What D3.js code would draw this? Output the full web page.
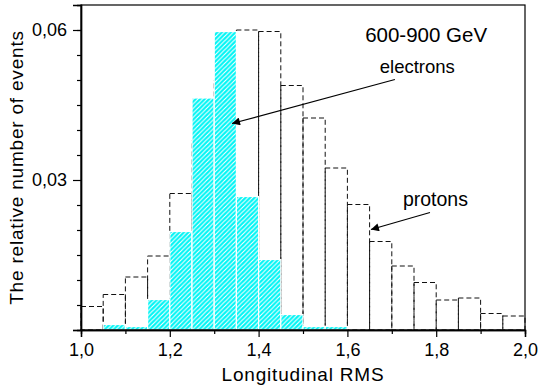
<!DOCTYPE html>
<html>
<head>
<meta charset="utf-8">
<script src="https://cdn.jsdelivr.net/npm/d3@7"></script>
<style>
  body { margin: 0; background: #fff; }
  svg { display: block; font-family: "Liberation Sans", Arial, sans-serif; }
</style>
</head>
<body>
<div id="chart"></div>
<script>
// bin left edges (bin width 0.05)
const binStarts = [1.00, 1.05, 1.10, 1.15, 1.20, 1.25, 1.30, 1.35, 1.40, 1.45,
                   1.50, 1.55, 1.60, 1.65, 1.70, 1.75, 1.80, 1.85, 1.90, 1.95];
const binWidth = 0.05;

const electrons = [0, 0.0011, 0.0007, 0.0061, 0.0197, 0.0464, 0.0597, 0.0267, 0.0141, 0.0031,
                   0.0007, 0.0007, 0, 0, 0, 0, 0, 0, 0, 0];
const protons = [0.0047, 0.0071, 0.0106, 0.0148, 0.0273, 0.0380, 0.0500, 0.0600, 0.0597, 0.0489,
                 0.0424, 0.0324, 0.0251, 0.0177, 0.0128, 0.0095, 0.0060, 0.0064, 0.0033, 0.0028];

const xMajorTicks = [1.0, 1.2, 1.4, 1.6, 1.8, 2.0];
const xMinorTicks = [1.1, 1.3, 1.5, 1.7, 1.9];
const yMajorTicks = [0, 0.03, 0.06];
const yMinorTicks = [0.005, 0.01, 0.015, 0.02, 0.025, 0.035, 0.04, 0.045, 0.05, 0.055, 0.06];

const W = 541, H = 389;
const margin = { top: 5, right: 16, bottom: 59, left: 81 };

const svg = d3.select("#chart").append("svg")
  .attr("width", W)
  .attr("height", H);

const x = d3.scaleLinear([1, 2], [margin.left, W - margin.right]);
const y = d3.scaleLinear([0, 0.065], [H - margin.bottom, margin.top]);

const comma = f => d => d3.format(f)(d).replace(".", ",");

// hatch for electrons
const defs = svg.append("defs");
const pat = defs.append("pattern")
  .attr("id", "hatch")
  .attr("patternUnits", "userSpaceOnUse")
  .attr("width", 4.5).attr("height", 4.5);
pat.append("rect").attr("width", 4.5).attr("height", 4.5).attr("fill", "#00f5f5");
pat.append("path")
  .attr("d", "M0,4.5 L4.5,0 M-1,1 L1,-1 M3.5,5.5 L5.5,3.5")
  .attr("stroke", "#fff")
  .attr("stroke-width", 1.1);

// protons: dashed outlines
svg.append("g")
  .selectAll("rect")
  .data(binStarts)
  .join("rect")
    .attr("x", d => x(d))
    .attr("y", (d, i) => y(protons[i]))
    .attr("width", d => x(d + binWidth) - x(d))
    .attr("height", (d, i) => y(0) - y(protons[i]))
    .attr("fill", "none")
    .attr("stroke", "#111")
    .attr("stroke-width", 1)
    .attr("stroke-dasharray", "5,3");

// electrons: cyan hatched bars
svg.append("g")
  .selectAll("rect")
  .data(binStarts.filter((d, i) => electrons[i] > 0))
  .join("rect")
    .attr("x", d => x(d))
    .attr("y", d => y(electrons[binStarts.indexOf(d)]))
    .attr("width", d => x(d + binWidth) - x(d))
    .attr("height", d => y(0) - y(electrons[binStarts.indexOf(d)]))
    .attr("fill", "url(#hatch)")
    .attr("stroke", "#fff")
    .attr("stroke-width", 1.2);

// frame
svg.append("rect")
  .attr("x", x(1)).attr("y", y(0.065))
  .attr("width", x(2) - x(1)).attr("height", y(0) - y(0.065))
  .attr("fill", "none").attr("stroke", "#000").attr("stroke-width", 1.2);

// axes
const styleAxis = g => {
  g.select(".domain").attr("stroke", "#000").attr("stroke-width", 1.4);
  g.selectAll(".tick line").attr("stroke", "#000").attr("stroke-width", 1.2);
  g.selectAll(".tick text").attr("fill", "#000").style("font-size", "18px");
};

svg.append("g")
  .attr("transform", `translate(0,${y(0)})`)
  .call(d3.axisBottom(x).tickValues(xMinorTicks).tickSize(4).tickFormat(""))
  .call(styleAxis);
svg.append("g")
  .attr("transform", `translate(0,${y(0)})`)
  .call(d3.axisBottom(x).tickValues(xMajorTicks).tickSize(7).tickPadding(6).tickFormat(comma(".1f")))
  .call(styleAxis);

svg.append("g")
  .attr("transform", `translate(${x(1)},0)`)
  .call(d3.axisLeft(y).tickValues(yMinorTicks).tickSize(4).tickFormat(""))
  .call(styleAxis);
svg.append("g")
  .attr("transform", `translate(${x(1)},0)`)
  .call(d3.axisLeft(y).tickValues(yMajorTicks).tickSize(8).tickPadding(6)
    .tickFormat(d => d === 0 ? "" : comma(".2f")(d)))
  .call(styleAxis);

// axis titles
svg.append("text")
  .attr("x", (x(1) + x(2)) / 2)
  .attr("y", 381)
  .attr("text-anchor", "middle")
  .style("font-size", "19px")
  .style("letter-spacing", "0.8px")
  .text("Longitudinal RMS");

svg.append("text")
  .attr("transform", `translate(23,${(y(0) + y(0.065)) / 2}) rotate(-90)`)
  .attr("text-anchor", "middle")
  .style("font-size", "19px")
  .style("letter-spacing", "0.8px")
  .text("The relative number of events");

// annotations
defs.append("marker")
  .attr("id", "arrow")
  .attr("viewBox", "0 0 10 10")
  .attr("refX", 10).attr("refY", 5)
  .attr("markerWidth", 12).attr("markerHeight", 8)
  .attr("markerUnits", "userSpaceOnUse")
  .attr("orient", "auto")
  .append("path").attr("d", "M0,0 L10,5 L0,10 Z").attr("fill", "#000");

svg.append("text")
  .attr("x", x(1.640)).attr("y", y(0.0577))
  .style("font-size", "20.5px")
  .text("600-900 GeV");

svg.append("text")
  .attr("x", x(1.673)).attr("y", y(0.0515))
  .style("font-size", "18.5px")
  .text("electrons");

svg.append("line")
  .attr("x1", x(1.707)).attr("y1", y(0.0501))
  .attr("x2", x(1.340)).attr("y2", y(0.0413))
  .attr("stroke", "#000").attr("stroke-width", 1.2)
  .attr("marker-end", "url(#arrow)");

svg.append("text")
  .attr("x", x(1.725)).attr("y", y(0.0249))
  .style("font-size", "19.5px")
  .text("protons");

svg.append("line")
  .attr("x1", x(1.786)).attr("y1", y(0.0235))
  .attr("x2", x(1.653)).attr("y2", y(0.0201))
  .attr("stroke", "#000").attr("stroke-width", 1.2)
  .attr("marker-end", "url(#arrow)");
</script>
</body>
</html>
